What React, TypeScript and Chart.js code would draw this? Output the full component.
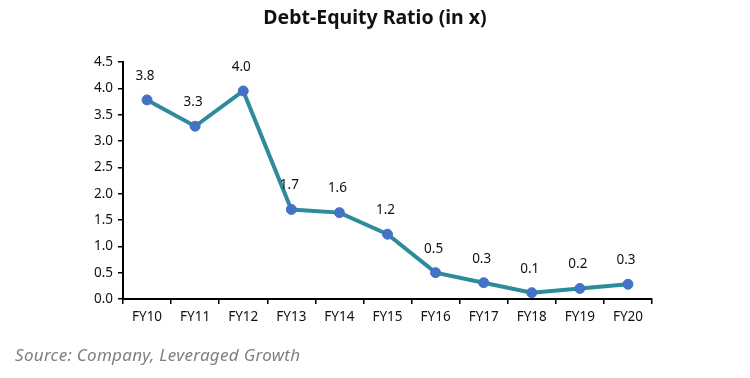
import React, { useEffect, useRef } from "react";
import { Chart, registerables } from "chart.js";

Chart.register(...registerables);

const categories = ["FY10", "FY11", "FY12", "FY13", "FY14", "FY15", "FY16", "FY17", "FY18", "FY19", "FY20"];
const ratioValues = [3.78, 3.28, 3.95, 1.7, 1.64, 1.23, 0.5, 0.31, 0.12, 0.2, 0.28];
const ratioLabels = ["3.8", "3.3", "4.0", "1.7", "1.6", "1.2", "0.5", "0.3", "0.1", "0.2", "0.3"];
const yTicks = [0, 0.5, 1, 1.5, 2, 2.5, 3, 3.5, 4, 4.5];

const FONT = "'Noto Sans', sans-serif";

const labelPlugin = {
  id: "pointLabels",
  afterDatasetsDraw(chart: any) {
    const ctx = chart.ctx;
    const meta = chart.getDatasetMeta(0);
    ctx.save();
    ctx.font = `13.5px ${FONT}`;
    ctx.fillStyle = "#111";
    ctx.textAlign = "center";
    ctx.textBaseline = "middle";
    meta.data.forEach((pt: any, i: number) => {
      ctx.fillText(ratioLabels[i], pt.x - 2, pt.y - 24);
    });
    ctx.restore();
  },
};

export default function App() {
  const ref = useRef<HTMLCanvasElement>(null);
  useEffect(() => {
    if (!ref.current) return;
    const chart = new Chart(ref.current, {
      type: "line",
      data: {
        labels: categories,
        datasets: [
          {
            data: ratioValues,
            borderColor: "#2E8B9B",
            borderWidth: 4,
            pointBackgroundColor: "#4472C4",
            pointBorderColor: "#4472C4",
            pointRadius: 5,
            pointBorderWidth: 1,
            tension: 0,
          },
        ],
      },
      options: {
        animation: false,
        responsive: false,
        maintainAspectRatio: false,
        layout: { padding: { left: 0, right: 98, top: 62, bottom: 39 } },
        plugins: { legend: { display: false }, tooltip: { enabled: false }, title: { display: false } },
        scales: {
          x: {
            offset: true,
            afterFit: (s: any) => {
              s.height = 40;
            },
            grid: {
              offset: true,
              display: true,
              drawOnChartArea: false,
              drawTicks: true,
              tickLength: 5,
              color: "#000",
              lineWidth: 1.5,
            },
            border: { display: true, color: "#000", width: 2 },
            ticks: { color: "#111", font: { family: FONT, size: 13.5 }, padding: 5 },
          },
          y: {
            min: 0,
            max: 4.5,
            afterFit: (s: any) => {
              s.width = 123;
            },
            afterBuildTicks: (s: any) => {
              s.ticks = yTicks.map((v) => ({ value: v }));
            },
            grid: {
              display: true,
              drawOnChartArea: false,
              drawTicks: true,
              tickLength: 5,
              color: "#000",
              lineWidth: 1.5,
            },
            border: { display: true, color: "#000", width: 2 },
            ticks: {
              color: "#111",
              font: { family: FONT, size: 13.5 },
              padding: 5,
              callback: (v: any) => Number(v).toFixed(1),
            },
          },
        },
      },
      plugins: [labelPlugin],
    });
    return () => chart.destroy();
  }, []);

  return (
    <div style={{ position: "fixed", left: 0, top: 0, width: 750, height: 378, background: "#fff" }}>
      <div
        style={{
          position: "absolute",
          top: 3,
          left: 0,
          width: 750,
          textAlign: "center",
          fontFamily: FONT,
          fontWeight: 700,
          fontSize: 19.5,
          color: "#111",
        }}
      >
        Debt-Equity Ratio (in x)
      </div>
      <canvas ref={ref} width={750} height={378} style={{ display: "block" }} />
      <div
        style={{
          position: "absolute",
          left: 15,
          top: 343,
          fontFamily: FONT,
          fontStyle: "italic",
          fontSize: 17,
          letterSpacing: 0.3,
          color: "#7f7f7f",
        }}
      >
        Source: Company, Leveraged Growth
      </div>
    </div>
  );
}
